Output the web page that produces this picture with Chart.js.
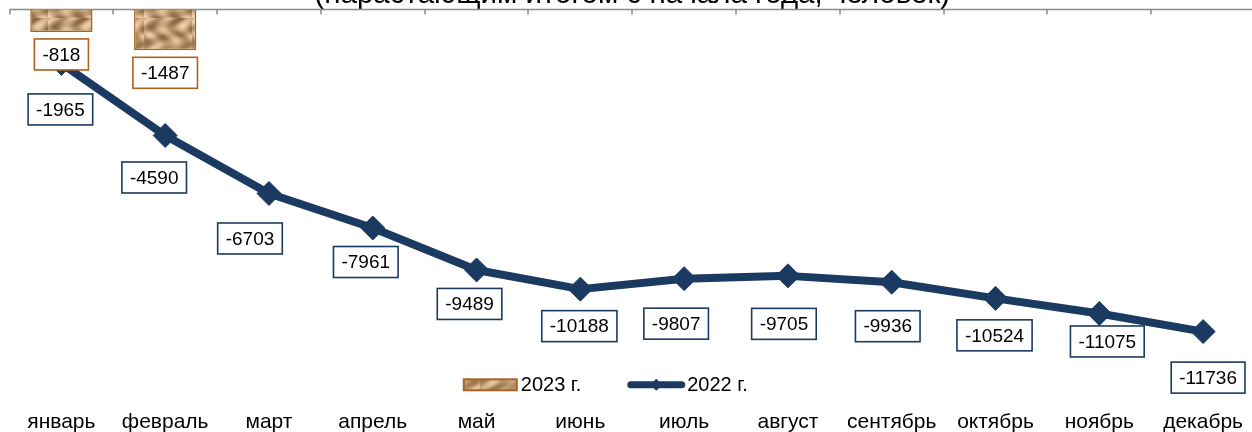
<!DOCTYPE html>
<html lang="ru">
<head>
<meta charset="utf-8">
<title>Естественная убыль населения</title>
<script src="https://cdn.jsdelivr.net/npm/chart.js@4.4.1/dist/chart.umd.min.js"></script>
<style>
  html, body { margin: 0; padding: 0; background: #fff; overflow: hidden; }
  #wrap { position: relative; width: 1252px; height: 432px; overflow: hidden; }
  #chart { position: absolute; left: 0; top: -30px; }
</style>
</head>
<body>
<div id="wrap"><canvas id="chart" width="1258" height="465"></canvas></div>
<script>
const months = ['январь', 'февраль', 'март', 'апрель', 'май', 'июнь',
                'июль', 'август', 'сентябрь', 'октябрь', 'ноябрь', 'декабрь'];
const values2023 = [-818, -1487, null, null, null, null, null, null, null, null, null, null];
const values2022 = [-1965, -4590, -6703, -7961, -9489, -10188, -9807, -9705, -9936, -10524, -11075, -11736];
const seriesNames = ['2023 г.', '2022 г.'];
const titleText = '(нарастающим итогом с начала года, человек)';

const navy = '#1b3a61';
const brown = '#b0601f';
const fontFamily = "'Liberation Sans', Arial, sans-serif";

// where the 2022 value boxes sit, relative to their marker (px)
const lineLabelShift = [[-1, 46], [-11, 42], [-19, 45], [-7, 34], [-7, 34], [-1, 37],
                        [-8, 45], [-4, 48], [-4, 44], [-1, 37], [8, 28], [5, 46]];

Chart.defaults.font.family = fontFamily;
Chart.defaults.color = '#000';

// tan "wood" fill used by the 2023 bars
function woodTexture(ctx) {
    const c = document.createElement('canvas');
    c.width = 48;
    c.height = 48;
    const g = c.getContext('2d');
    const img = g.createImageData(48, 48);
    for (let j = 0; j < 48; j++) {
        for (let i = 0; i < 48; i++) {
            const t = Math.sin(i * 0.31 + 2.4 * Math.sin(j * 0.19)) * 0.5
                    + Math.sin(j * 0.45 + i * 0.12) * 0.35
                    + Math.cos((i + j) * 0.27) * 0.15;
            const k = (t + 1) / 2;
            const p = (j * 48 + i) * 4;
            img.data[p] = 135 + 105 * k;
            img.data[p + 1] = 100 + 108 * k;
            img.data[p + 2] = 60 + 110 * k;
            img.data[p + 3] = 255;
        }
    }
    g.putImageData(img, 0, 0);
    return ctx.createPattern(c, 'repeat');
}

const canvas = document.getElementById('chart');
const wood = woodTexture(canvas.getContext('2d'));

// zero line on top with short tick marks between categories
const topAxis = {
    id: 'topAxis',
    beforeDatasetsDraw(chart) {
        const { ctx, scales: { x, y } } = chart;
        const y0 = y.getPixelForValue(0);
        const step = x.width / months.length;
        ctx.save();
        ctx.strokeStyle = '#8a8a8a';
        ctx.lineWidth = 1.5;
        ctx.beginPath();
        ctx.moveTo(x.left, y0);
        ctx.lineTo(chart.width, y0);
        for (let i = 0; i <= months.length; i++) {
            const px = Math.round(x.left + i * step);
            ctx.moveTo(px, y0);
            ctx.lineTo(px, y0 + 5);
        }
        ctx.stroke();
        ctx.restore();
    }
};

function drawBox(ctx, text, cx, cy, color) {
    const w = ctx.measureText(text).width + 16;
    const h = 31;
    ctx.fillStyle = '#fff';
    ctx.fillRect(cx - w / 2, cy - h / 2, w, h);
    ctx.lineWidth = 1.6;
    ctx.strokeStyle = color;
    ctx.strokeRect(cx - w / 2, cy - h / 2, w, h);
    ctx.fillStyle = '#000';
    ctx.fillText(text, cx, cy + 1);
}

// value boxes
const valueBoxes = {
    id: 'valueBoxes',
    afterDatasetsDraw(chart) {
        const ctx = chart.ctx;
        ctx.save();
        ctx.font = '19px ' + fontFamily;
        ctx.textAlign = 'center';
        ctx.textBaseline = 'middle';

        const lineMeta = chart.getDatasetMeta(1);
        lineMeta.data.forEach((pt, i) => {
            const v = values2022[i];
            if (v == null) return;
            const s = lineLabelShift[i];
            drawBox(ctx, String(v), pt.x + s[0], pt.y + s[1], navy);
        });

        const barMeta = chart.getDatasetMeta(0);
        barMeta.data.forEach((bar, i) => {
            const v = values2023[i];
            if (v == null) return;
            drawBox(ctx, String(v), bar.x, bar.y + 7 + 15.5, brown);
        });
        ctx.restore();
    }
};

// legend row between plot and month names
const legendRow = {
    id: 'legendRow',
    afterDraw(chart) {
        const { ctx, chartArea } = chart;
        const ds = chart.data.datasets;
        ctx.save();
        ctx.font = '20px ' + fontFamily;
        ctx.textBaseline = 'middle';
        ctx.textAlign = 'left';
        const w1 = ctx.measureText(ds[0].label).width;
        const w2 = ctx.measureText(ds[1].label).width;
        const total = 53 + 5 + w1 + 46 + 58 + 2 + w2;
        let x = (chartArea.left + chartArea.right) / 2 - 26 - total / 2;
        const cy = chartArea.bottom + 13;

        ctx.fillStyle = ds[0].backgroundColor;
        ctx.fillRect(x, cy - 5.5, 53, 11);
        ctx.strokeStyle = ds[0].borderColor;
        ctx.lineWidth = 2;
        ctx.strokeRect(x, cy - 5.5, 53, 11);
        x += 57;
        ctx.fillStyle = '#000';
        ctx.fillText(ds[0].label, x, cy + 1);
        x += w1 + 46;

        ctx.strokeStyle = ds[1].borderColor;
        ctx.lineWidth = 7;
        ctx.lineCap = 'round';
        ctx.beginPath();
        ctx.moveTo(x + 3.5, cy);
        ctx.lineTo(x + 54.5, cy);
        ctx.stroke();
        ctx.fillStyle = ds[1].borderColor;
        ctx.beginPath();
        ctx.moveTo(x + 29, cy - 6);
        ctx.lineTo(x + 35, cy);
        ctx.lineTo(x + 29, cy + 6);
        ctx.lineTo(x + 23, cy);
        ctx.closePath();
        ctx.fill();
        x += 60;
        ctx.fillStyle = '#000';
        ctx.fillText(ds[1].label, x, cy + 1);
        ctx.restore();
    }
};

new Chart(canvas, {
    data: {
        labels: months,
        datasets: [
            {
                type: 'bar',
                label: seriesNames[0],
                data: values2023,
                backgroundColor: wood,
                borderColor: brown,
                borderWidth: 1.5,
                barPercentage: 0.6,
                categoryPercentage: 1,
                order: 2
            },
            {
                type: 'line',
                label: seriesNames[1],
                data: values2022,
                borderColor: navy,
                borderWidth: 8,
                borderJoinStyle: 'round',
                pointStyle: 'rectRot',
                pointRadius: 12,
                pointBackgroundColor: navy,
                pointBorderColor: navy,
                pointBorderWidth: 1,
                tension: 0,
                clip: false,
                order: 1
            }
        ]
    },
    options: {
        responsive: false,
        animation: false,
        devicePixelRatio: 1,
        layout: { autoPadding: false, padding: { left: 9.5, right: 3, top: 0, bottom: 0 } },
        plugins: {
            legend: { display: false },
            tooltip: { enabled: false },
            title: {
                display: true,
                text: titleText,
                color: '#000',
                font: { size: 29.5, weight: 'normal', lineHeight: 1 },
                padding: { top: 10, bottom: 0 }
            }
        },
        scales: {
            x: {
                grid: { display: false, tickLength: 38 },
                border: { display: false },
                ticks: { color: '#000', font: { size: 21 }, padding: 0, maxRotation: 0, autoSkip: false }
            },
            y: {
                display: false,
                min: -13200,
                max: 0
            }
        }
    },
    plugins: [topAxis, valueBoxes, legendRow]
});
</script>
</body>
</html>
